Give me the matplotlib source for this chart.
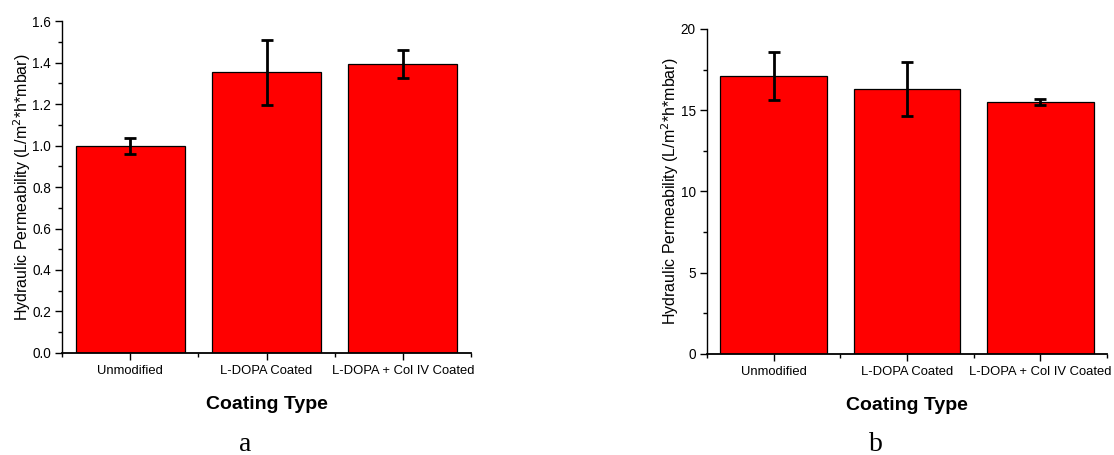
import numpy as np
import matplotlib.pyplot as plt
from matplotlib.ticker import MultipleLocator, FixedLocator

plt.rcParams['font.family'] = ['Liberation Sans', 'DejaVu Sans']

categories = ["Unmodified", "L-DOPA Coated", "L-DOPA + Col IV Coated"]

# panel a
perm_a = [0.998, 1.353, 1.392]
err_a = [0.037, 0.157, 0.066]

# panel b
perm_b = [17.11, 16.31, 15.51]
err_b = [1.50, 1.66, 0.20]

fig = plt.figure(figsize=(11.14, 4.55), dpi=100)
ax_a = fig.add_axes([0.0557, 0.2242, 0.3671, 0.7296])
ax_b = fig.add_axes([0.6346, 0.2220, 0.3591, 0.7143])

x = np.arange(1, len(categories) + 1)


def draw_panel(ax, vals, errs, ymax, major, minor, fmt):
    ax.bar(x, vals, width=0.8, color='#ff0000', edgecolor='black', linewidth=0.9, zorder=2)
    ax.errorbar(x, vals, yerr=errs, fmt='none', ecolor='black', elinewidth=2,
                capsize=4, capthick=2, zorder=3)
    ax.set_xlim(0.5, 3.5)
    ax.set_ylim(0, ymax)
    ax.spines['top'].set_visible(False)
    ax.spines['right'].set_visible(False)
    ax.spines['left'].set_linewidth(1.0)
    ax.spines['bottom'].set_linewidth(1.3)
    ax.set_xticks(x)
    ax.set_xticklabels(categories, fontsize=9.4)
    ax.xaxis.set_minor_locator(FixedLocator([0.5, 1.5, 2.5, 3.5]))
    ax.yaxis.set_major_locator(MultipleLocator(major))
    ax.yaxis.set_minor_locator(MultipleLocator(minor))
    ax.yaxis.set_major_formatter(fmt)
    ax.tick_params(axis='both', which='major', direction='out', length=5, width=1, labelsize=9.8, pad=3)
    ax.tick_params(axis='x', which='major', labelsize=9.4, pad=4)
    ax.tick_params(axis='both', which='minor', direction='out', length=3, width=1)
    ax.set_ylabel("Hydraulic Permeability (L/m$^2$*h*mbar)", fontsize=11.5, labelpad=-0.5)
    ax.set_xlabel("Coating Type", fontsize=14, fontweight='bold', labelpad=13)


draw_panel(ax_a, perm_a, err_a, 1.6, 0.2, 0.1, '{x:.1f}')
draw_panel(ax_b, perm_b, err_b, 20, 5, 2.5, '{x:.0f}')

fig.text(245 / 1114, 4 / 455, "a", fontsize=20, family='Liberation Serif', ha='center', va='baseline')
fig.text(876 / 1114, 4 / 455, "b", fontsize=20, family='Liberation Serif', ha='center', va='baseline')

fig.savefig("out.png", dpi=100)
